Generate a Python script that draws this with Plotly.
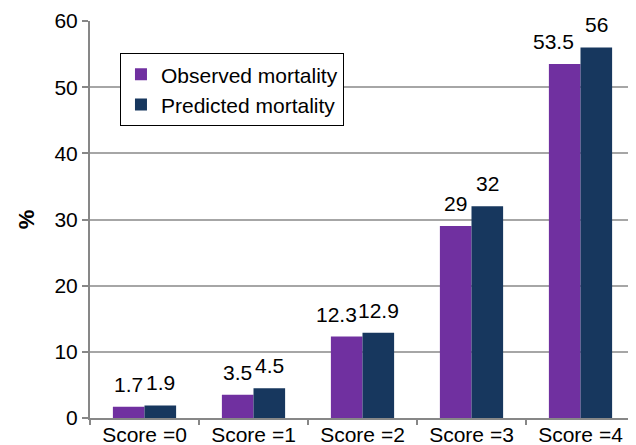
import plotly.graph_objects as go

categories = ["Score =0", "Score =1", "Score =2", "Score =3", "Score =4"]
observed = [1.7, 3.5, 12.3, 29, 53.5]
predicted = [1.9, 4.5, 12.9, 32, 56]
observed_labels = ["1.7", "3.5", "12.3", "29", "53.5"]
predicted_labels = ["1.9", "4.5", "12.9", "32", "56"]

FONT = "Liberation Sans, Arial, sans-serif"
PURPLE = "#7030A0"
NAVY = "#17375E"
AXIS_GRAY = "#878787"
GRID_GRAY = "#A6A6A6"
FS = 21

fig = go.Figure()
fig.add_trace(go.Bar(name="Observed mortality", x=categories, y=observed,
                     marker=dict(color=PURPLE, line=dict(width=0))))
fig.add_trace(go.Bar(name="Predicted mortality", x=categories, y=predicted,
                     marker=dict(color=NAVY, line=dict(width=0))))

# data labels placed above each bar (offset within the group)
bargap = 0.42
half = (1 - bargap) / 4
obs_xshift = [0, 0, -10, 0, -11]
for i, (v, t) in enumerate(zip(observed, observed_labels)):
    fig.add_annotation(x=i - half, y=v, text=t, showarrow=False, xref="x", yref="y",
                       yanchor="bottom", yshift=9, xshift=obs_xshift[i],
                       font=dict(family=FONT, size=FS, color="#000000"))
for i, (v, t) in enumerate(zip(predicted, predicted_labels)):
    fig.add_annotation(x=i + half, y=v, text=t, showarrow=False, xref="x", yref="y",
                       yanchor="bottom", yshift=9,
                       font=dict(family=FONT, size=FS, color="#000000"))

fig.update_layout(
    width=628, height=445,
    margin=dict(l=82, r=1, t=13, b=35),
    paper_bgcolor="white", plot_bgcolor="white",
    barmode="group", bargap=bargap, bargroupgap=0,
    font=dict(family=FONT, size=FS, color="#000000"),
    showlegend=True,
    legend=dict(x=0.055, y=0.919, xanchor="left", yanchor="top",
                bordercolor="#000000", borderwidth=1, bgcolor="white",
                font=dict(family=FONT, size=FS, color="#000000"),
                itemwidth=30, tracegroupgap=0),
    xaxis=dict(type="category", showline=True, linecolor=AXIS_GRAY, linewidth=2,
               ticks="outside", tickson="boundaries", ticklen=5, tickcolor=AXIS_GRAY,
               tickwidth=2, showgrid=False, tickfont=dict(family=FONT, size=FS),
               ticklabelstandoff=-3,
               range=[-0.5, 4.5], automargin=False),
    yaxis=dict(range=[0, 60], dtick=10, showline=True, linecolor=AXIS_GRAY, linewidth=2,
               ticks="outside", ticklen=6, tickcolor=AXIS_GRAY, tickwidth=2,
               showgrid=True, gridcolor=GRID_GRAY, gridwidth=1.5, zeroline=False,
               tickfont=dict(family=FONT, size=FS), automargin=False,
               title=dict(text="<b>%</b>", font=dict(family=FONT, size=22), standoff=14)),
)

fig.write_html("out.html")
